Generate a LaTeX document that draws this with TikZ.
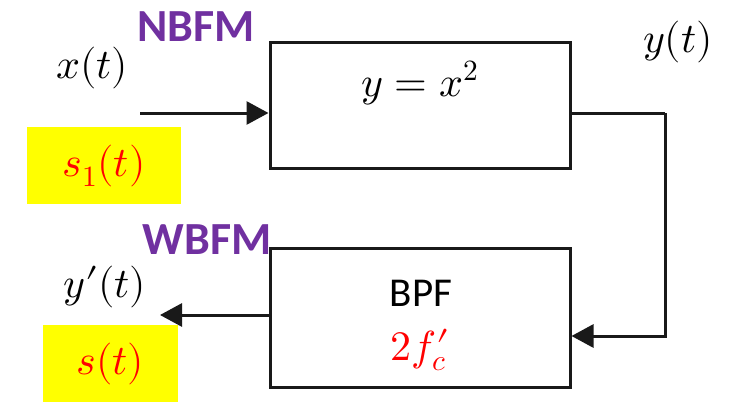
\documentclass[tikz,border=0pt]{standalone}
\usepackage{unicode-math}
\setmainfont{Carlito}
\setmathfont{Latin Modern Math}
\newfontfamily\lmmath{Latin Modern Math}
\newcommand{\bigpr}{\mbox{\lmmath\char"2032}}
\usetikzlibrary{arrows.meta}
\definecolor{fmpurple}{HTML}{7030A0}
\definecolor{hiyellow}{HTML}{FFFF00}
\tikzset{
  blockbox/.style={draw=black!90, line width=3pt, minimum width=300pt, inner sep=0pt},
  wire/.style={draw=black!90, line width=3pt},
  arrowwire/.style={wire, -{Triangle[length=22pt,width=23pt]}},
  mathlbl/.style={font=\fontsize{42}{48}\selectfont, inner sep=0pt},
  modlbl/.style={text=fmpurple, font=\fontsize{46}{52}\selectfont\bfseries, inner sep=0pt},
  sigbox/.style={fill=hiyellow, text=red, font=\fontsize{42}{48}\selectfont, inner sep=0pt}
}
\begin{document}
\begin{tikzpicture}[x=1pt, y=-1pt]
  \useasboundingbox (0,0) rectangle (732,402);

  % blocks
  \node[blockbox, minimum height=126pt] (sq) at (420,105) {};
  \node[mathlbl] (sqtxt) at (420,83) {$y=x^2$};
  \node[blockbox, minimum height=139pt] (bpf) at (420,317.5) {};
  \node[inner sep=0pt, font=\fontsize{41}{46}\selectfont] (bpftxt) at (421,293) {BPF};
  % prime set back over the subscript
  \node[mathlbl, text=red] (fctxt) at (422,350) {$2f_c\kern-10pt\bigpr\kern4pt$};

  % signal path
  \coordinate (in) at (140,113);
  \coordinate (turn) at (665,113);
  \coordinate (out) at (160,315);
  \draw[arrowwire] (in) -- (sq.west |- in);
  \draw[wire] (sq.east |- turn) -- (turn);
  \draw[arrowwire] (turn) -- (665,336) -- (bpf.east |- 0,336);
  \draw[arrowwire] (bpf.west |- out) -- (out);

  % labels
  \node[mathlbl] (xlbl) at (92,68) {$x(t)$};
  \node[mathlbl] (ylbl) at (678,42) {$y(t)$};
  \node[mathlbl] (yplbl) at (105,287) {$y\bigpr(t)$};
  \node[modlbl] (nb) at (196,27) {NBFM};
  \node[modlbl] (wb) at (207,240) {WBFM};
  \node[sigbox, minimum width=154pt, minimum height=77pt] (s1) at (104,165.5) {$s_1(t)$};
  \node[sigbox, minimum width=135pt, minimum height=77pt] (s) at (110.5,363.5) {$s(t)$};
\end{tikzpicture}
\end{document}
